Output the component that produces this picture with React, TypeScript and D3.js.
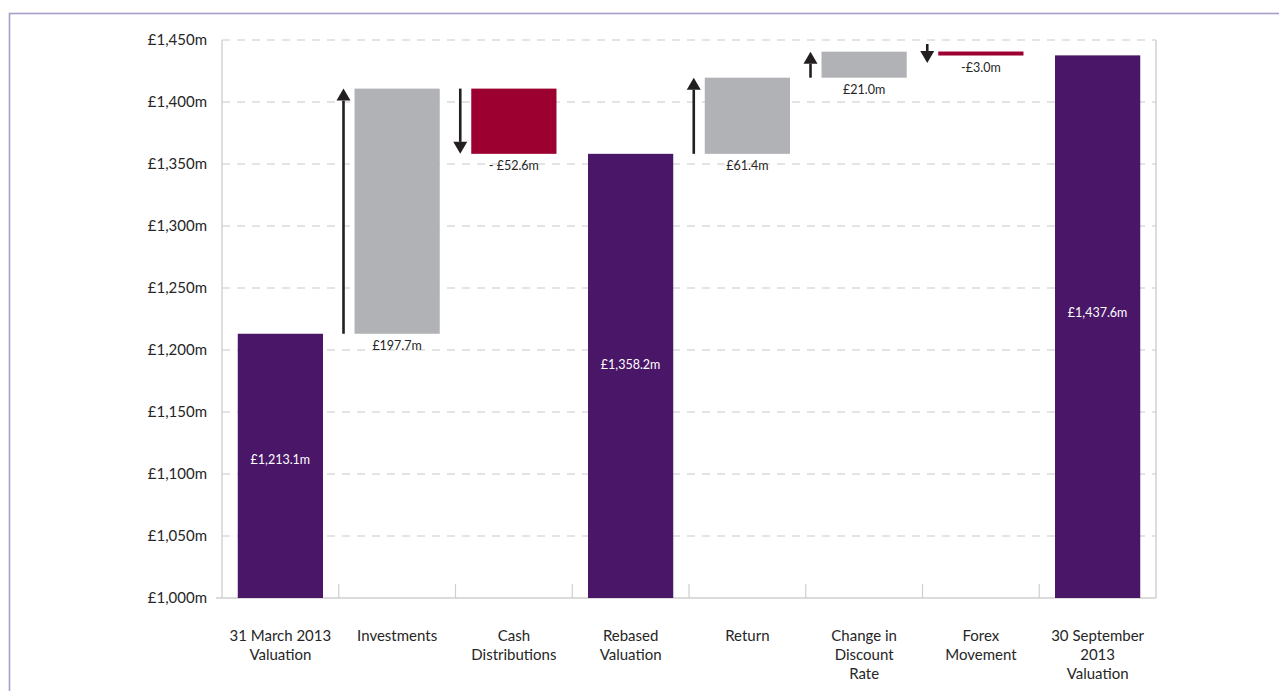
import React from "react";
import * as d3 from "d3";

const categories = [
  ["31 March 2013", "Valuation"],
  ["Investments"],
  ["Cash", "Distributions"],
  ["Rebased", "Valuation"],
  ["Return"],
  ["Change in", "Discount", "Rate"],
  ["Forex", "Movement"],
  ["30 September", "2013", "Valuation"],
];
const kinds = ["total", "up", "down", "total", "up", "up", "down", "total"];
const values = [1213.1, 197.7, -52.6, 1358.2, 61.4, 21.0, -3.0, 1437.6];
const valueLabels = ["£1,213.1m", "£197.7m", "- £52.6m", "£1,358.2m", "£61.4m", "£21.0m", "-£3.0m", "£1,437.6m"];
const yTicks = [1000, 1050, 1100, 1150, 1200, 1250, 1300, 1350, 1400, 1450];

const W = 1279, H = 691;
const left = 222, right = 1156, top = 40, bottom = 598;
const PURPLE = "#4a1668", GREY = "#b1b2b5", RED = "#9b0030", ARROW = "#231f20", TEXT = "#262626";
const FONT = "Lato, 'Open Sans', sans-serif";

export default function App() {
  const x = d3.scaleBand<number>().domain(d3.range(categories.length)).range([left, right]).paddingInner(0).paddingOuter(0);
  const y = d3.scaleLinear().domain([1000, 1450]).range([bottom, top]);
  const bw = x.bandwidth();
  const barW = bw * 0.73;

  let running = 0;
  const segs = values.map((v, i) => {
    if (kinds[i] === "total") {
      running = v;
      return { y0: 1000, y1: v, start: v, end: v };
    }
    const start = running;
    const end = running + v;
    running = end;
    return { y0: Math.min(start, end), y1: Math.max(start, end), start, end };
  });

  return (
    <svg width={W} height={H} style={{ position: "absolute", left: 0, top: 0 }} fontFamily={FONT}>
      <rect x={9.5} y={13.5} width={1400} height={800} fill="none" stroke="#a99cc8" strokeWidth={1.6} />
      {yTicks.map((t) => (
        <g key={t}>
          {t !== 1000 && (
            <line x1={left} x2={right} y1={y(t)} y2={y(t)} stroke="#c9c9c9" strokeWidth={1} strokeDasharray="8,7" />
          )}
          <text x={207} y={y(t)} dy="0.35em" textAnchor="end" fontSize={15} fill={TEXT}>
            {"£" + d3.format(",")(t) + "m"}
          </text>
        </g>
      ))}
      <line x1={left} x2={left} y1={top} y2={bottom} stroke="#c9c9c9" strokeWidth={1.2} />
      <line x1={right} x2={right} y1={top} y2={bottom} stroke="#d0d0d0" strokeWidth={1.5} />
      <line x1={216} x2={right} y1={bottom} y2={bottom} stroke="#cfcfcf" strokeWidth={1.5} />
      {d3.range(1, categories.length).map((i) => (
        <line key={i} x1={x(i)!} x2={x(i)!} y1={bottom - 14} y2={bottom} stroke="#cfcfcf" strokeWidth={1.2} />
      ))}
      {segs.map((s, i) => {
        const cx = x(i)! + bw / 2;
        const bx = cx - barW / 2;
        const k = kinds[i];
        const fill = k === "total" ? PURPLE : k === "up" ? GREY : RED;
        let by = y(s.y1);
        let bh = y(s.y0) - y(s.y1);
        if (k === "down" && bh < 4) {
          by = (y(s.y1) + y(s.y0)) / 2 - 2;
          bh = 4;
        }
        const els: React.ReactNode[] = [
          <rect key="b" x={bx} y={by} width={barW} height={bh} fill={fill} />,
        ];
        if (k === "total") {
          const ly = y(s.y1) + (y(1000) - y(s.y1)) * 0.475;
          els.push(
            <text key="l" x={cx} y={ly} dy="0.35em" textAnchor="middle" fontSize={12.5} fill="#ffffff">
              {valueLabels[i]}
            </text>
          );
        } else {
          els.push(
            <text key="l" x={cx} y={by + bh + 12} dy="0.35em" textAnchor="middle" fontSize={12.5} fill={TEXT}>
              {valueLabels[i]}
            </text>
          );
          const ax = bx - 11;
          let ys = y(s.start), ye = y(s.end);
          const len = Math.abs(ye - ys);
          if (len < 19) {
            const mid = (ys + ye) / 2;
            const d0 = ye > ys ? 1 : -1;
            ys = mid - d0 * 9.5;
            ye = mid + d0 * 9.5;
          }
          const dir = ye > ys ? 1 : -1;
          const headH = 12, headW = 7;
          els.push(
            <g key="a">
              <line x1={ax} x2={ax} y1={ys} y2={ye - dir * headH} stroke={ARROW} strokeWidth={2.6} />
              <path
                d={`M${ax - headW},${ye - dir * headH} L${ax + headW},${ye - dir * headH} L${ax},${ye} Z`}
                fill={ARROW}
              />
            </g>
          );
        }
        return <g key={i}>{els}</g>;
      })}
      {categories.map((lines, i) => (
        <text key={i} x={x(i)! + bw / 2} textAnchor="middle" fontSize={15} fill={TEXT}>
          {lines.map((ln, j) => (
            <tspan key={j} x={x(i)! + bw / 2} y={636 + j * 19} dy="0.35em">
              {ln}
            </tspan>
          ))}
        </text>
      ))}
    </svg>
  );
}
